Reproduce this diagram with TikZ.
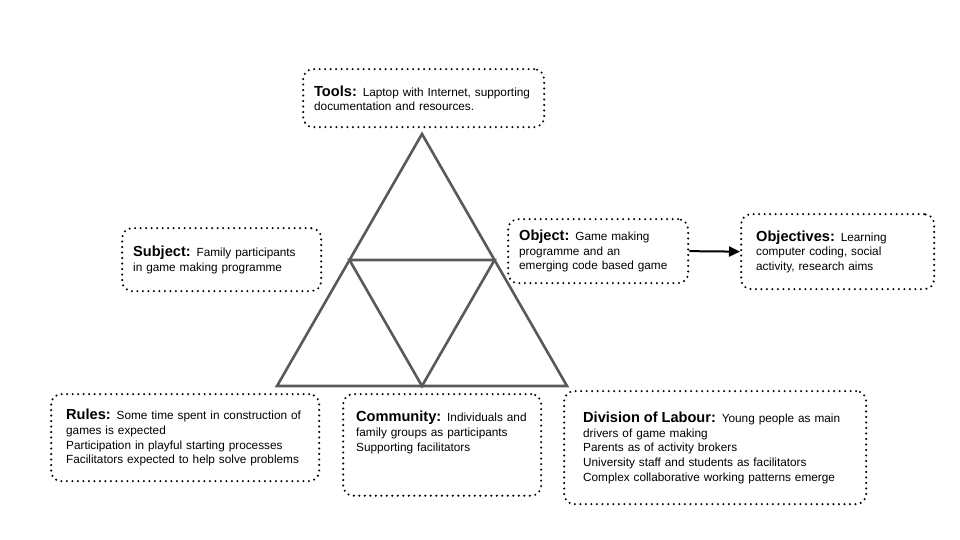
\documentclass[tikz,border=0pt]{standalone}
\usepackage{fontspec}
\setmainfont{Liberation Sans}
\usepackage{tikz}
\usepackage{xcolor}
\usetikzlibrary{arrows.meta,calc}
\definecolor{trigray}{HTML}{595959}
\newcommand{\boxhead}[1]{{\fontsize{14.6}{14.7}\selectfont\bfseries #1}}
\tikzstyle{dotbox} = [draw, line width=2.3pt, dash pattern=on 0pt off 5.5pt, line cap=round,
  rounded corners=10pt, align=left, anchor=north west, inner ysep=0pt,
  font=\fontsize{11.8}{14.7}\selectfont]
\tikzstyle{side} = [draw=trigray, line width=2.6pt, line join=miter]

\begin{document}
\begin{tikzpicture}[x=1pt,y=-1pt,->,>={Stealth[inset=0pt,length=11pt,width=10pt]},semithick]
  \useasboundingbox (0,0) rectangle (960,540);
  \node[dotbox, inner xsep=11pt, text width=219pt, minimum height=58pt] (tools) at (302,68)
    {\boxhead{Tools:} Laptop with Internet, supporting\\documentation and resources.};
  \node[dotbox, inner xsep=11pt, text width=177pt, minimum height=63pt] (subject) at (121,227)
    {\boxhead{Subject:} Family participants\\in game making programme};
  \node[dotbox, inner xsep=11pt, text width=158pt, minimum height=64pt] (object) at (507,218)
    {\boxhead{Object:} Game making\\programme and an\\emerging code based game};
  \node[dotbox, inner xsep=15pt, text width=163pt, minimum height=75pt] (objectives) at (740,213)
    {\boxhead{Objectives:} Learning\\computer coding, social\\activity, research aims};
  \node[dotbox, inner xsep=15pt, text width=238pt, minimum height=87pt] (rules) at (50,393)
    {\boxhead{Rules:} Some time spent in construction of\\games is expected\\Participation in playful starting processes\\Facilitators expected to help solve problems};
  \node[dotbox, inner xsep=13pt, inner ysep=17pt, text width=172pt, text depth=57pt] (community) at (342,393)
    {\boxhead{Community:} Individuals and\\family groups as participants\\Supporting facilitators};
  \node[dotbox, inner xsep=19pt, text width=264pt, minimum height=113pt] (division) at (563,390)
    {\boxhead{Division of Labour:} Young people as main\\drivers of game making\\Parents as of activity brokers\\University staff and students as facilitators\\Complex collaborative working patterns emerge};

  % triangle
  \coordinate (apex) at (422,134);
  \coordinate (baseL) at (277,386);
  \coordinate (baseR) at (567,386);
  \coordinate (midL) at ($(apex)!0.5!(baseL)$);
  \coordinate (midR) at ($(apex)!0.5!(baseR)$);
  \coordinate (midB) at ($(baseL)!0.5!(baseR)$);
  \draw[side,-] (apex) -- (baseR) -- (baseL) -- cycle;
  \draw[side,-] (midL) -- (midR) -- (midB) -- cycle;

  \path (object.east) edge[line width=2pt] (objectives.west);
\end{tikzpicture}
\end{document}
